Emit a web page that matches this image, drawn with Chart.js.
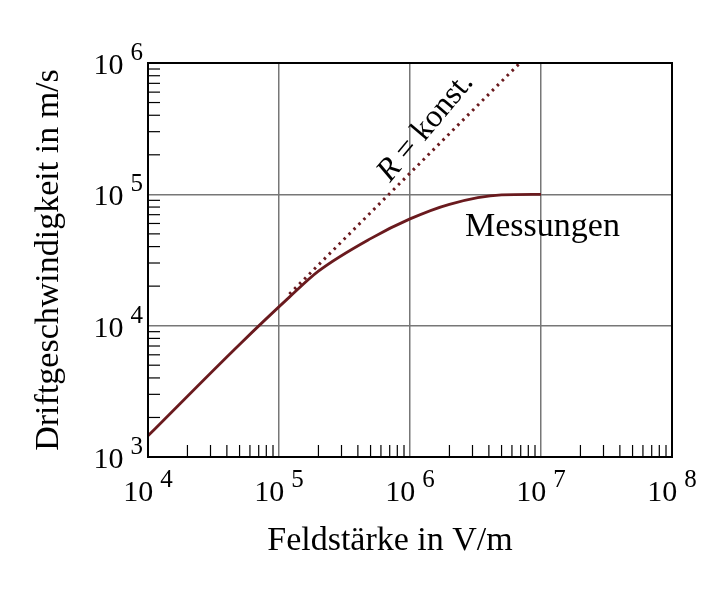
<!DOCTYPE html>
<html>
<head>
<meta charset="utf-8">
<script src="https://cdn.jsdelivr.net/npm/chart.js@4"></script>
<style>
  body { margin: 0; background: #fff; }
  #wrap { width: 720px; height: 600px; }
</style>
</head>
<body>
<div id="wrap"><canvas id="chart"></canvas></div>
<script>
// Messungen (Feldstärke in V/m -> Driftgeschwindigkeit in m/s)
const fieldMeas = [1e4, 5e4, 1.2e5, 2e5, 5e5, 1e6, 2e6, 5e6, 1e7];
const speedMeas = [1.45e3, 7.2e3, 1.65e4, 2.6e4, 4.6e4, 6.5e4, 8.4e4, 9.9e4, 1e5];
// R = konst. (Geradenstück)
const fieldConst = [1.2e5, 6.9e6];
const speedConst = [1.74e4, 1e6];
const decadesX = [4, 5, 6, 7, 8];
const decadesY = [3, 4, 5, 6];

const serif = '"Liberation Serif", "DejaVu Serif", serif';
const lineColor = '#6a1a1e';

const toPoints = (xs, ys) => xs.map((x, i) => ({ x: x, y: ys[i] }));

const decoration = {
  id: 'decoration',
  afterDraw(chart) {
    const { ctx, chartArea: a, scales: { x, y } } = chart;
    ctx.save();
    ctx.strokeStyle = '#000';
    ctx.lineWidth = 1.2;
    // minor ticks, inward, bottom and left
    for (let d = 4; d < 8; d++) {
      for (let m = 2; m < 10; m++) {
        const px = x.getPixelForValue(m * Math.pow(10, d));
        ctx.beginPath(); ctx.moveTo(px, a.bottom); ctx.lineTo(px, a.bottom - 12); ctx.stroke();
      }
    }
    for (let d = 3; d < 6; d++) {
      for (let m = 2; m < 10; m++) {
        const py = y.getPixelForValue(m * Math.pow(10, d));
        ctx.beginPath(); ctx.moveTo(a.left, py); ctx.lineTo(a.left + 12, py); ctx.stroke();
      }
    }
    // frame
    ctx.lineWidth = 2;
    ctx.strokeRect(a.left, a.top, a.right - a.left, a.bottom - a.top);

    ctx.fillStyle = '#000';
    ctx.textBaseline = 'alphabetic';
    const power = (cx, cy, e, align) => {
      ctx.font = '30px ' + serif;
      const w1 = ctx.measureText('10').width;
      ctx.font = '25px ' + serif;
      const w2 = ctx.measureText(String(e)).width;
      const start = align === 'center' ? cx - (w1 + 7 + w2) / 2 : cx - (w1 + 7 + w2);
      ctx.textAlign = 'left';
      ctx.font = '30px ' + serif;
      ctx.fillText('10', start, cy);
      ctx.font = '25px ' + serif;
      ctx.fillText(String(e), start + w1 + 7, cy - 14);
    };
    decadesX.forEach(e => power(x.getPixelForValue(Math.pow(10, e)), a.bottom + 44, e, 'center'));
    decadesY.forEach(e => power(a.left - 5, y.getPixelForValue(Math.pow(10, e)) + 11, e, 'right'));

    ctx.font = '34px ' + serif;
    ctx.textAlign = 'center';
    ctx.fillText('Feldstärke in V/m', (a.left + a.right) / 2 - 20, a.bottom + 93);
    ctx.save();
    ctx.translate(58, (a.top + a.bottom) / 2);
    ctx.rotate(-Math.PI / 2);
    ctx.fillText('Driftgeschwindigkeit in m/s', 0, 0);
    ctx.restore();

    ctx.textAlign = 'left';
    ctx.fillText('Messungen', 465, 236);

    ctx.save();
    ctx.translate(390, 183);
    ctx.rotate(-Math.PI / 3.6);
    ctx.font = 'italic 32px ' + serif;
    ctx.fillText('R', 0, 0);
    const wr = ctx.measureText('R').width;
    ctx.font = '32px ' + serif;
    ctx.fillText(' = konst.', wr, 0);
    ctx.restore();
    ctx.restore();
  }
};

new Chart(document.getElementById('chart'), {
  type: 'scatter',
  data: {
    datasets: [
      {
        label: 'Messungen',
        data: toPoints(fieldMeas, speedMeas),
        showLine: true,
        cubicInterpolationMode: 'monotone',
        borderColor: lineColor,
        borderWidth: 2.8,
        pointRadius: 0
      },
      {
        label: 'R = konst.',
        data: toPoints(fieldConst, speedConst),
        showLine: true,
        borderColor: lineColor,
        borderWidth: 3,
        borderDash: [2.5, 4.5],
        pointRadius: 0
      }
    ]
  },
  options: {
    responsive: true,
    maintainAspectRatio: false,
    animation: false,
    layout: { padding: { left: 148, top: 63, right: 48, bottom: 143 } },
    plugins: { legend: { display: false }, tooltip: { enabled: false } },
    scales: {
      x: {
        type: 'logarithmic', min: 1e4, max: 1e8,
        afterBuildTicks: s => { s.ticks = decadesX.map(e => ({ value: Math.pow(10, e) })); },
        ticks: { display: false },
        grid: { color: '#777', lineWidth: 1.5, drawTicks: false },
        border: { display: false }
      },
      y: {
        type: 'logarithmic', min: 1e3, max: 1e6,
        afterBuildTicks: s => { s.ticks = decadesY.map(e => ({ value: Math.pow(10, e) })); },
        ticks: { display: false },
        grid: { color: '#777', lineWidth: 1.5, drawTicks: false },
        border: { display: false }
      }
    }
  },
  plugins: [decoration]
});
</script>
</body>
</html>
